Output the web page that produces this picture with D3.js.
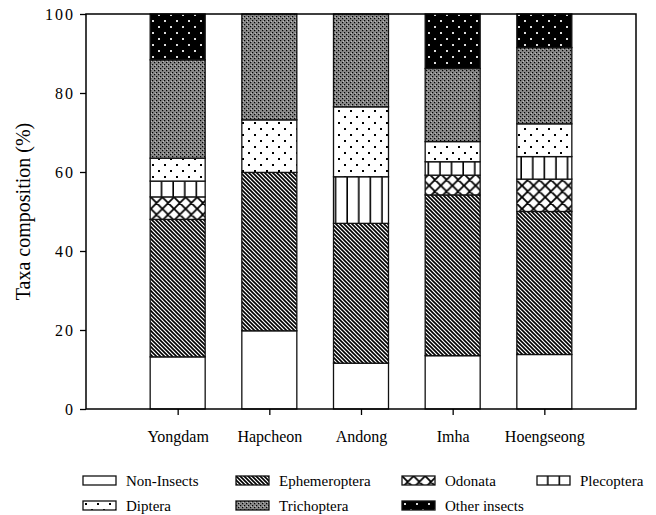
<!DOCTYPE html>
<html>
<head>
<meta charset="utf-8">
<script src="https://cdn.jsdelivr.net/npm/d3@7"></script>
<style>
  html, body { margin: 0; padding: 0; background: #fff; }
  svg { display: block; }
  text { font-family: "Liberation Serif", "Times New Roman", serif; fill: #000; }
</style>
</head>
<body>
<svg id="chart" width="656" height="515"></svg>
<script>
// Reservoir sites along the x axis
const sites = ["Yongdam", "Hapcheon", "Andong", "Imha", "Hoengseong"];

// Taxa groups, stacked bottom to top
const taxa = ["Non-Insects", "Ephemeroptera", "Odonata", "Plecoptera", "Diptera", "Trichoptera", "Other insects"];

// Composition (%) of each taxon per site, in the order of `sites`
const nonInsects    = [13.2, 19.8, 11.6, 13.5, 13.8];
const ephemeroptera = [34.8, 40.1, 35.4, 40.7, 36.2];
const odonata       = [5.7, 0.0, 0.0, 5.0, 8.2];
const plecoptera    = [4.0, 0.0, 11.8, 3.4, 5.7];
const diptera       = [5.8, 13.3, 17.7, 5.1, 8.3];
const trichoptera   = [24.9, 26.8, 23.5, 18.5, 19.3];
const otherInsects  = [11.6, 0.0, 0.0, 13.8, 8.5];

const yTicks = [0, 20, 40, 60, 80, 100];

const seriesValues = [nonInsects, ephemeroptera, odonata, plecoptera, diptera, trichoptera, otherInsects];
const rows = sites.map((s, i) => {
  const r = { site: s };
  taxa.forEach((t, k) => { r[t] = seriesValues[k][i]; });
  return r;
});

const svg = d3.select("#chart");
const plotL = 86, plotR = 636, plotT = 14, plotB = 409;

// Hatch fills
const defs = svg.append("defs");
const fillId = {};
function pat(id, w, h, build) {
  const p = defs.append("pattern").attr("id", id).attr("patternUnits", "userSpaceOnUse")
    .attr("width", w).attr("height", h);
  build(p);
  return `url(#${id})`;
}
fillId["Non-Insects"] = "#fff";
fillId["Ephemeroptera"] = pat("p-eph", 4, 4, p => {
  p.append("rect").attr("width", 4).attr("height", 4).attr("fill", "#fff");
  p.append("path").attr("d", "M-1,-1L5,5M-1,3L1,5M3,-1L5,1")
    .attr("stroke", "#000").attr("stroke-width", 1.6);
});
fillId["Odonata"] = pat("p-odo", 11.6, 11.6, p => {
  p.append("rect").attr("width", 11.6).attr("height", 11.6).attr("fill", "#fff");
  p.append("path").attr("d", "M0,0L11.6,11.6M11.6,0L0,11.6M-1,10.6L1,12.6M10.6,-1L12.6,1M-1,1L1,-1M10.6,12.6L12.6,10.6")
    .attr("stroke", "#000").attr("stroke-width", 1.8);
});
fillId["Plecoptera"] = pat("p-ple", 11.6, 10, p => {
  p.append("rect").attr("width", 11.6).attr("height", 10).attr("fill", "#fff");
  p.append("rect").attr("x", 10).attr("width", 1.6).attr("height", 10).attr("fill", "#000");
});
fillId["Diptera"] = pat("p-dip", 12, 12, p => {
  p.append("rect").attr("width", 12).attr("height", 12).attr("fill", "#fff");
  p.append("rect").attr("x", 2).attr("y", 2).attr("width", 2).attr("height", 2).attr("fill", "#000");
  p.append("rect").attr("x", 8).attr("y", 8).attr("width", 2).attr("height", 2).attr("fill", "#000");
});
// Fine grey stipple
fillId["Trichoptera"] = pat("p-tri", 4, 4, p => {
  p.append("rect").attr("width", 4).attr("height", 4).attr("fill", "#8a8a8a");
  p.append("rect").attr("x", 0).attr("y", 0).attr("width", 1.2).attr("height", 1.2).attr("fill", "#000");
  p.append("rect").attr("x", 2).attr("y", 2).attr("width", 1.2).attr("height", 1.2).attr("fill", "#000");
  p.append("rect").attr("x", 3).attr("y", 1).attr("width", 0.8).attr("height", 0.8).attr("fill", "#d8d8d8");
});
fillId["Other insects"] = pat("p-oth", 12, 12, p => {
  p.append("rect").attr("width", 12).attr("height", 12).attr("fill", "#000");
  p.append("rect").attr("x", 2).attr("y", 2).attr("width", 2).attr("height", 2).attr("fill", "#ddd");
  p.append("rect").attr("x", 8).attr("y", 8).attr("width", 2).attr("height", 2).attr("fill", "#ddd");
});

// Scales: sites sit on whole steps with a half-empty step at each end
const step = (plotR - plotL) / (sites.length + 1);
const x = d3.scalePoint().domain(sites).range([plotL + step, plotR - step]);
const barW = step * 0.6;
const y = d3.scaleLinear().domain([0, 100]).range([plotB, plotT]);

const stacked = d3.stack().keys(taxa)(rows);

svg.append("g").selectAll("g").data(stacked).join("g")
  .attr("fill", d => fillId[d.key])
  .selectAll("rect").data(d => d.filter(s => s[1] - s[0] > 0)).join("rect")
  .attr("x", d => x(d.data.site) - barW / 2)
  .attr("width", barW)
  .attr("y", d => y(d[1]))
  .attr("height", d => y(d[0]) - y(d[1]))
  .attr("stroke", "#111").attr("stroke-width", 1.3);

// Frame
svg.append("rect").attr("x", plotL).attr("y", plotT).attr("width", plotR - plotL).attr("height", plotB - plotT)
  .attr("fill", "none").attr("stroke", "#000").attr("stroke-width", 1.5);

// Y axis
const yAxis = svg.append("g").attr("transform", `translate(${plotL},0)`)
  .call(d3.axisLeft(y).tickValues(yTicks).tickSize(6).tickSizeOuter(0).tickPadding(5));
yAxis.select(".domain").remove();
yAxis.selectAll("line").attr("stroke", "#000").attr("stroke-width", 1.3);
yAxis.selectAll("text").attr("font-size", 16).attr("letter-spacing", 2)
  .attr("font-family", "Liberation Serif");

// X axis
const xAxis = svg.append("g").attr("transform", `translate(0,${plotB})`)
  .call(d3.axisBottom(x).tickSize(6).tickSizeOuter(0).tickPadding(16));
xAxis.select(".domain").remove();
xAxis.selectAll("line").attr("stroke", "#000").attr("stroke-width", 1.3);
xAxis.selectAll("text").attr("font-size", 16).attr("font-family", "Liberation Serif");

// Y axis title
svg.append("text").attr("transform", `translate(30,${(plotT + plotB) / 2}) rotate(-90)`)
  .attr("text-anchor", "middle").attr("font-size", 20).text("Taxa composition (%)");

// Legend
const legendPos = [
  [83, 476], [236, 476], [402, 476], [537, 476],
  [83, 501], [236, 501], [402, 501]
];
const lg = svg.append("g").selectAll("g").data(taxa).join("g")
  .attr("transform", (d, i) => `translate(${legendPos[i][0]},${legendPos[i][1]})`);
lg.append("rect").attr("width", 33).attr("height", 9)
  .attr("fill", d => fillId[d]).attr("stroke", "#111").attr("stroke-width", 1.3);
lg.append("text").attr("x", 43).attr("y", 9.5).attr("font-size", 15).text(d => d);
</script>
</body>
</html>
